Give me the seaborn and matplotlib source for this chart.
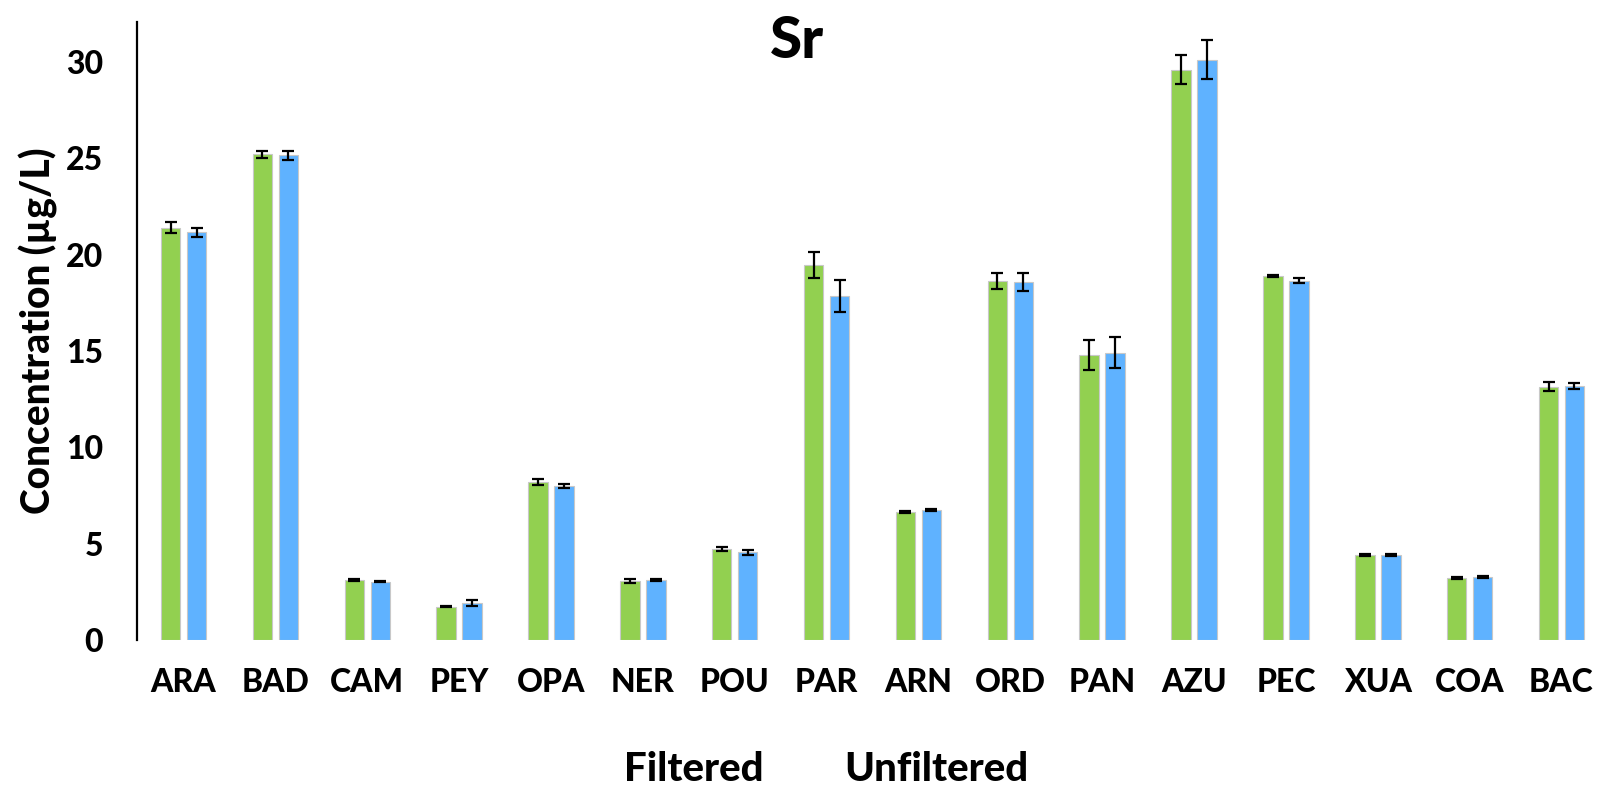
import matplotlib
matplotlib.use("Agg")
import matplotlib.pyplot as plt
import seaborn as sns
import pandas as pd
import numpy as np

sites = ["ARA", "BAD", "CAM", "PEY", "OPA", "NER", "POU", "PAR",
         "ARN", "ORD", "PAN", "AZU", "PEC", "XUA", "COA", "BAC"]
filtered = [21.4, 25.2, 3.10, 1.73, 8.20, 3.08, 4.74, 19.45,
            6.64, 18.61, 14.78, 29.6, 18.91, 4.41, 3.20, 13.15]
filtered_err = [0.30, 0.17, 0.05, 0.04, 0.14, 0.10, 0.10, 0.67,
                0.06, 0.41, 0.78, 0.77, 0.05, 0.05, 0.05, 0.23]
unfiltered = [21.15, 25.15, 3.03, 1.92, 7.97, 3.10, 4.55, 17.85,
              6.75, 18.57, 14.9, 30.12, 18.63, 4.41, 3.29, 13.18]
unfiltered_err = [0.22, 0.22, 0.03, 0.14, 0.10, 0.04, 0.14, 0.84,
                  0.06, 0.46, 0.80, 0.99, 0.13, 0.03, 0.05, 0.18]
groups = ["Filtered", "Unfiltered"]
colors = ["#92D050", "#5FB2FF"]
yticks = [0, 5, 10, 15, 20, 25, 30]

df = pd.DataFrame({
    "site": sites * 2,
    "type": [groups[0]] * len(sites) + [groups[1]] * len(sites),
    "value": filtered + unfiltered,
})
errs = {groups[0]: filtered_err, groups[1]: unfiltered_err}

sns.set_theme(style="white")
FAM = ["Lato", "DejaVu Sans"]
plt.rcParams["font.family"] = FAM
plt.rcParams["font.weight"] = "black"
plt.rcParams["text.color"] = "black"
plt.rcParams["xtick.color"] = "black"
plt.rcParams["ytick.color"] = "black"
plt.rcParams["axes.labelcolor"] = "black"
W = "black"

fig = plt.figure(figsize=(16.01, 7.88), dpi=100)
ax = fig.add_axes([136.7 / 1601, 148 / 788, (1601 - 136.7) / 1601, 618 / 788])

sns.barplot(data=df, x="site", y="value", hue="type", order=sites,
            hue_order=groups, palette=colors, errorbar=None,
            width=0.566, gap=0.25, edgecolor="#c8c8c8", linewidth=0.8,
            saturation=1, ax=ax)

for cont, g in zip(ax.containers, groups):
    xs = [p.get_x() + p.get_width() / 2 for p in cont.patches]
    hs = [p.get_height() for p in cont.patches]
    ax.errorbar(xs, hs, yerr=errs[g], fmt="none", ecolor="black",
                elinewidth=1.6, capsize=4.5, capthick=1.6, zorder=5)

ax.set_ylim(0, 32.07)
ax.set_xlim(-0.51, 15.43)
ax.set_yticks(yticks)
ax.set_yticklabels([str(t) for t in yticks], fontsize=23, fontweight=W)
ax.set_xticks(range(len(sites)))
ax.set_xticklabels(sites, fontsize=23, fontweight=W)
ax.tick_params(axis="both", length=0)
ax.tick_params(axis="y", pad=24)
ax.tick_params(axis="x", pad=20)
for s in ["top", "right", "bottom"]:
    ax.spines[s].set_visible(False)
ax.spines["left"].set_color("black")
ax.spines["left"].set_linewidth(1.6)
ax.set_xlabel("")
ax.set_ylabel("Concentration (µg/L)", fontsize=28, fontweight=W, labelpad=6)

leg = ax.legend(handles=ax.legend_.legend_handles if ax.legend_ else None,
                labels=groups, loc="center", bbox_to_anchor=(0.471, -0.21),
                bbox_transform=ax.transAxes, ncol=2, frameon=False,
                handlelength=0, handletextpad=0, columnspacing=2.0,
                prop={"family": FAM, "weight": W, "size": 29})
for h in leg.legend_handles:
    h.set_visible(False)

fig.text(797 / 1601, 1 - 42 / 788, "Sr", ha="center", va="center",
         fontsize=42, fontweight=W)

fig.savefig("out.png", dpi=100)
